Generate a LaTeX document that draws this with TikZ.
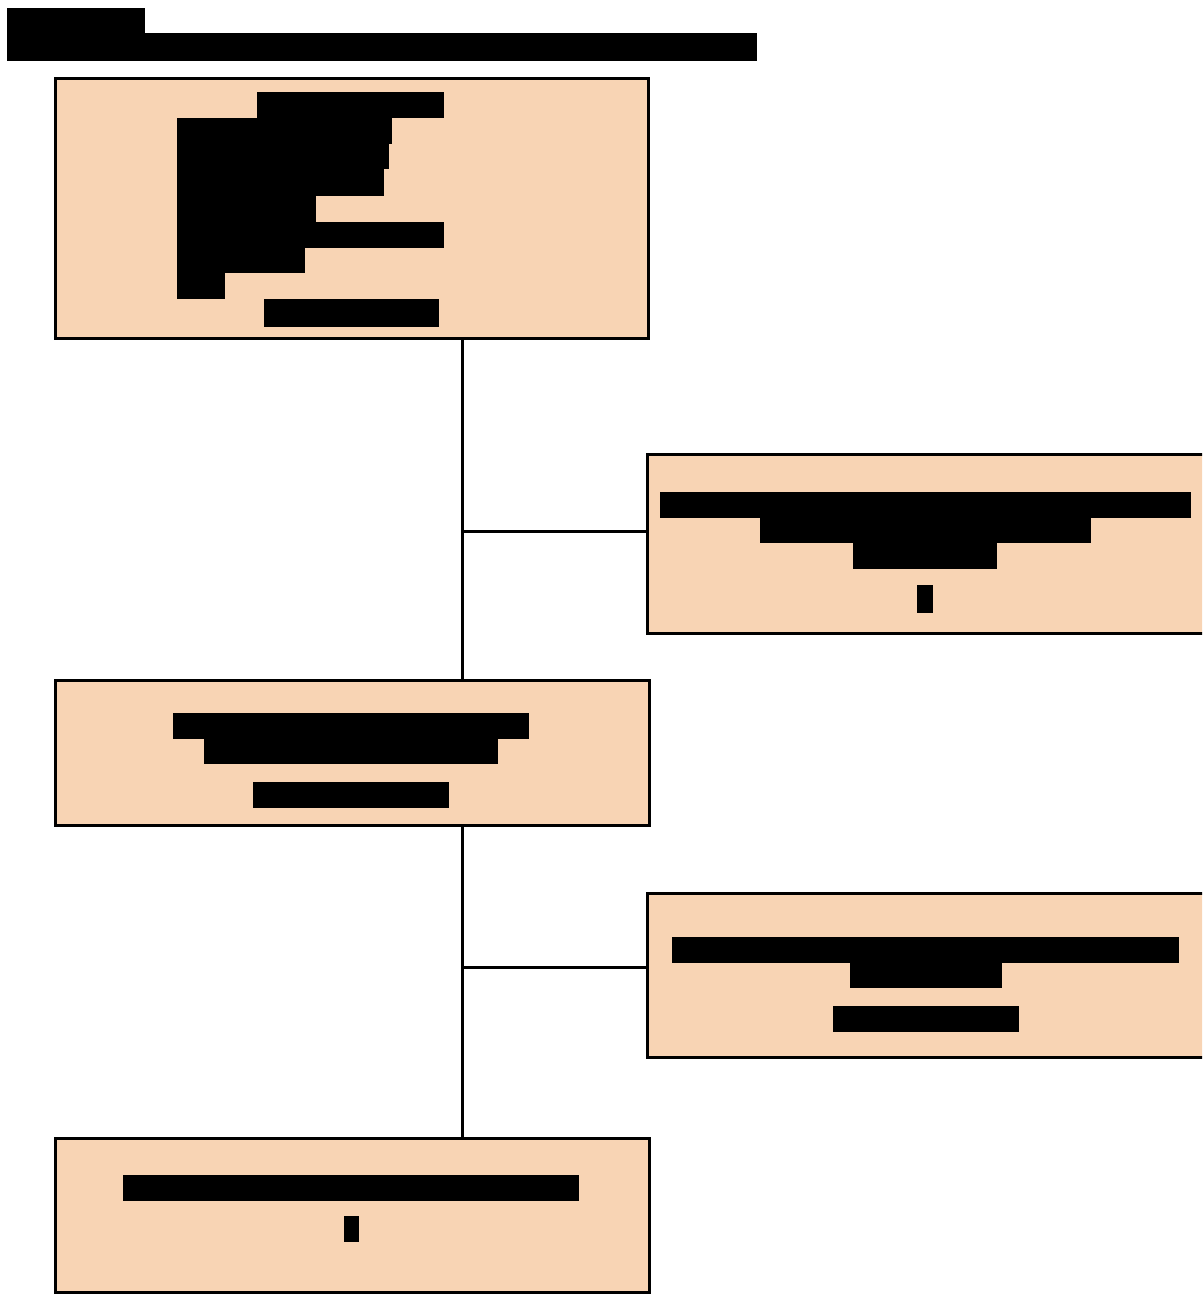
\documentclass[tikz,border=0pt]{standalone}
\usetikzlibrary{calc}
\definecolor{peach}{RGB}{248,212,180}
\tikzset{
  box/.style={draw=black, fill=peach, line width=3pt, rectangle, inner sep=0pt},
  bar/.style={fill=black, draw=none},
  link/.style={draw=black, line width=3pt}
}
\begin{document}
\begin{tikzpicture}[x=1pt,y=-1pt]
\useasboundingbox (0,0) rectangle (1202,1295);
\begin{scope}
\clip (0,0) rectangle (1202,1295);
% title (redacted)
\fill[bar] (7,8) rectangle (145,61);
\fill[bar] (145,33) rectangle (757,61);

% boxes
\node[box, minimum width=593pt, minimum height=259pt] (b1) at (351.5,208.5) {};
\node[box, minimum width=558pt, minimum height=179pt] (b2) at (926,543.5) {};
\node[box, minimum width=594pt, minimum height=145pt] (b3) at (352,752.5) {};
\node[box, minimum width=558pt, minimum height=164pt] (b4) at (926,975) {};
\node[box, minimum width=594pt, minimum height=154pt] (b5) at (352,1215) {};

% connectors
\coordinate (j1) at (462,531);
\coordinate (j2) at (462,967);
\draw[link] (b1.south -| j1) -- (b3.north -| j1);
\draw[link] (j1) -- (b2.west |- j1);
\draw[link] (b3.south -| j2) -- (b5.north -| j2);
\draw[link] (j2) -- (b4.west |- j2);

% box 1 text (redacted)
\fill[bar] (257,92) rectangle (444,118);
\fill[bar] (177,118) rectangle (392,144);
\fill[bar] (177,144) rectangle (389,169);
\fill[bar] (177,169) rectangle (384,196);
\fill[bar] (177,196) rectangle (316,222);
\fill[bar] (177,222) rectangle (444,248);
\fill[bar] (177,248) rectangle (305,273);
\fill[bar] (177,273) rectangle (225,299);
\fill[bar] (264,299) rectangle (439,327);

% box 2 text
\fill[bar] (660,492) rectangle (1191,518);
\fill[bar] (760,518) rectangle (1091,543);
\fill[bar] (853,543) rectangle (997,569);
\fill[bar] (917,585) rectangle (933,613);

% box 3 text
\fill[bar] (173,713) rectangle (529,739);
\fill[bar] (204,739) rectangle (498,764);
\fill[bar] (253,782) rectangle (449,808);

% box 4 text
\fill[bar] (672,937) rectangle (1179,963);
\fill[bar] (850,963) rectangle (1002,988);
\fill[bar] (833,1006) rectangle (1019,1032);

% box 5 text
\fill[bar] (123,1175) rectangle (579,1201);
\fill[bar] (344,1216) rectangle (359,1242);
\end{scope}
\end{tikzpicture}
\end{document}
